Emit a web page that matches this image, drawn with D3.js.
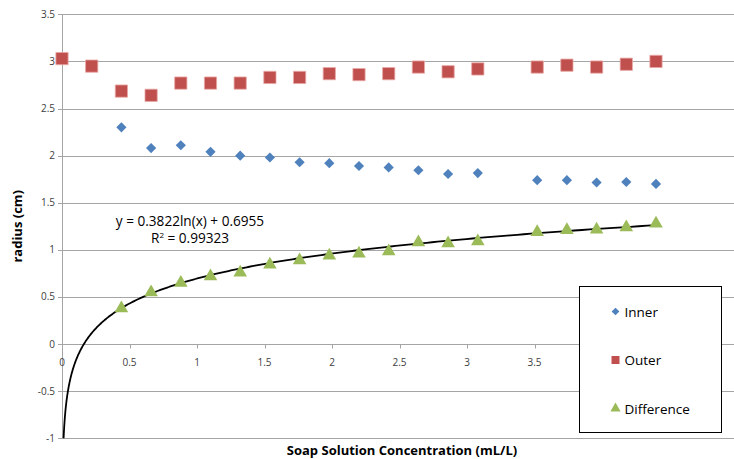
<!DOCTYPE html>
<html>
<head>
<meta charset="utf-8">
<script src="https://cdn.jsdelivr.net/npm/d3@7"></script>
<style>
  body { margin: 0; background: #fff; }
  svg { display: block; font-family: "Open Sans", "Noto Sans", sans-serif; }
</style>
</head>
<body>
<div id="chart"></div>
<script>
// soap concentration (mL/L)
var concOuter = [0, 0.22, 0.44, 0.66, 0.88, 1.10, 1.32, 1.54, 1.76, 1.98, 2.20, 2.42, 2.64, 2.86, 3.08, 3.52, 3.74, 3.96, 4.18, 4.40];
var concInner = [0.44, 0.66, 0.88, 1.10, 1.32, 1.54, 1.76, 1.98, 2.20, 2.42, 2.64, 2.86, 3.08, 3.52, 3.74, 3.96, 4.18, 4.40];

var outer = [3.03, 2.95, 2.685, 2.64, 2.77, 2.77, 2.77, 2.83, 2.83, 2.87, 2.86, 2.87, 2.94, 2.89, 2.92, 2.94, 2.96, 2.94, 2.97, 3.00];
var inner = [2.30, 2.08, 2.11, 2.04, 2.00, 1.98, 1.93, 1.92, 1.89, 1.875, 1.845, 1.805, 1.815, 1.74, 1.74, 1.715, 1.72, 1.70];
var difference = [0.39, 0.56, 0.66, 0.73, 0.77, 0.855, 0.90, 0.95, 0.97, 0.995, 1.09, 1.08, 1.10, 1.20, 1.22, 1.225, 1.25, 1.29];

var xTicks = [0, 0.5, 1, 1.5, 2, 2.5, 3, 3.5, 4, 4.5];
var yTicks = [-1, -0.5, 0, 0.5, 1, 1.5, 2, 2.5, 3, 3.5];

// log trendline printed on the chart
var fitA = 0.3822, fitB = 0.6955;
var fitLabel = 'y = 0.3822ln(x) + 0.6955';
var r2Value = '0.99323';

var width = 734, height = 459;
var plotL = 62, plotR = 734, plotT = 14.3, plotB = 438.3;

var svg = d3.select('#chart').append('svg')
  .attr('width', width)
  .attr('height', height);

var x = d3.scaleLinear().domain([0, 5]).range([plotL, plotL + 675]);
var y = d3.scaleLinear().domain([-1, 3.5]).range([plotB, plotT]);

var gridColor = '#a5a5a5';

// horizontal gridlines (with little ticks out to the left)
svg.append('g')
  .selectAll('line')
  .data(yTicks)
  .enter().append('line')
  .attr('x1', plotL - 4)
  .attr('x2', plotR)
  .attr('y1', function (d) { return Math.round(y(d)) + 0.5; })
  .attr('y2', function (d) { return Math.round(y(d)) + 0.5; })
  .attr('stroke', gridColor)
  .attr('stroke-width', 1);

// y axis line
svg.append('line')
  .attr('x1', plotL + 0.5).attr('x2', plotL + 0.5)
  .attr('y1', Math.round(plotT) + 0.5).attr('y2', Math.round(plotB) + 0.5)
  .attr('stroke', gridColor);

// y tick labels
svg.append('g')
  .selectAll('text')
  .data(yTicks)
  .enter().append('text')
  .attr('x', plotL - 7)
  .attr('y', function (d) { return y(d) + 3.5; })
  .attr('text-anchor', 'end')
  .attr('font-size', '10px')
  .attr('fill', '#404040')
  .text(function (d) { return d; });

// x axis at y = 0 with ticks below
var y0 = Math.round(y(0)) + 0.5;
svg.append('g')
  .selectAll('line')
  .data(xTicks)
  .enter().append('line')
  .attr('x1', function (d) { return Math.round(x(d)) + 0.5; })
  .attr('x2', function (d) { return Math.round(x(d)) + 0.5; })
  .attr('y1', y0)
  .attr('y2', y0 + 4)
  .attr('stroke', gridColor);

svg.append('g')
  .selectAll('text')
  .data(xTicks)
  .enter().append('text')
  .attr('x', function (d) { return x(d); })
  .attr('y', y0 + 21)
  .attr('text-anchor', 'middle')
  .attr('font-size', '10px')
  .attr('fill', '#404040')
  .text(function (d) { return d; });

// trendline
var xStart = Math.exp((-1 - fitB) / fitA);
var xEnd = d3.max(concInner);
var fitPts = d3.range(0, 401).map(function (i) {
  var t = i / 400;
  var xv = Math.exp(Math.log(xStart) + t * (Math.log(xEnd) - Math.log(xStart)));
  return [xv, fitA * Math.log(xv) + fitB];
});
svg.append('path')
  .datum(fitPts)
  .attr('fill', 'none')
  .attr('stroke', '#000')
  .attr('stroke-width', 1.8)
  .attr('d', d3.line()
    .x(function (d) { return x(d[0]); })
    .y(function (d) { return y(d[1]); }));

// markers
var diamond = d3.symbol().type(d3.symbolSquare).size(52);
var square = d3.symbol().type(d3.symbolSquare).size(150);
var triangle = d3.symbol().type(d3.symbolTriangle).size(80);

svg.append('g')
  .selectAll('path')
  .data(concInner)
  .enter().append('path')
  .attr('d', diamond)
  .attr('transform', function (d, i) { return 'translate(' + x(d) + ',' + y(inner[i]) + ') rotate(45)'; })
  .attr('fill', '#4f81bd');

svg.append('g')
  .selectAll('path')
  .data(concOuter)
  .enter().append('path')
  .attr('d', square)
  .attr('transform', function (d, i) { return 'translate(' + x(d) + ',' + y(outer[i]) + ')'; })
  .attr('fill', '#c0504d')
  .attr('stroke', '#e8a8a6')
  .attr('stroke-width', 0.8);

svg.append('g')
  .selectAll('path')
  .data(concInner)
  .enter().append('path')
  .attr('d', triangle)
  .attr('transform', function (d, i) { return 'translate(' + x(d) + ',' + (y(difference[i]) + 1) + ')'; })
  .attr('fill', '#9bbb59');

// trendline label
svg.append('text')
  .attr('x', 190)
  .attr('y', 226)
  .attr('text-anchor', 'middle')
  .attr('font-size', '13.6px')
  .attr('fill', '#000')
  .text(fitLabel);

var r2 = svg.append('text')
  .attr('x', 190)
  .attr('y', 243)
  .attr('text-anchor', 'middle')
  .attr('font-size', '13.6px')
  .attr('fill', '#000');
r2.append('tspan').text('R');
r2.append('tspan').attr('dy', -5).attr('font-size', '8px').text('2');
r2.append('tspan').attr('dy', 5).text(' = ' + r2Value);

// axis titles
svg.append('text')
  .attr('transform', 'translate(22,' + ((plotT + plotB) / 2) + ') rotate(-90)')
  .attr('text-anchor', 'middle')
  .attr('font-size', '13px')
  .attr('font-weight', 'bold')
  .attr('fill', '#000')
  .text('radius (cm)');

svg.append('text')
  .attr('x', 402)
  .attr('y', 455)
  .attr('text-anchor', 'middle')
  .attr('font-size', '13px')
  .attr('font-weight', 'bold')
  .attr('fill', '#000')
  .text('Soap Solution Concentration (mL/L)');

// legend
var legendItems = ['Inner', 'Outer', 'Difference'];
var legendColors = ['#4f81bd', '#c0504d', '#9bbb59'];
var legendSymbols = [
  d3.symbol().type(d3.symbolSquare).size(30),
  d3.symbol().type(d3.symbolSquare).size(64),
  d3.symbol().type(d3.symbolTriangle).size(45)
];

var legend = svg.append('g').attr('transform', 'translate(579.5,286.5)');
legend.append('rect')
  .attr('width', 142)
  .attr('height', 146)
  .attr('fill', '#fff')
  .attr('stroke', '#000')
  .attr('stroke-width', 1);

var item = legend.selectAll('g')
  .data(legendItems)
  .enter().append('g')
  .attr('transform', function (d, i) { return 'translate(0,' + (25 + i * 48.5) + ')'; });

item.append('path')
  .attr('d', function (d, i) { return legendSymbols[i](); })
  .attr('transform', function (d, i) { return 'translate(36,0)' + (i === 0 ? ' rotate(45)' : ''); })
  .attr('fill', function (d, i) { return legendColors[i]; });

item.append('text')
  .attr('x', 45)
  .attr('y', 5)
  .attr('font-size', '13.5px')
  .attr('fill', '#000')
  .text(function (d) { return d; });
</script>
</body>
</html>
